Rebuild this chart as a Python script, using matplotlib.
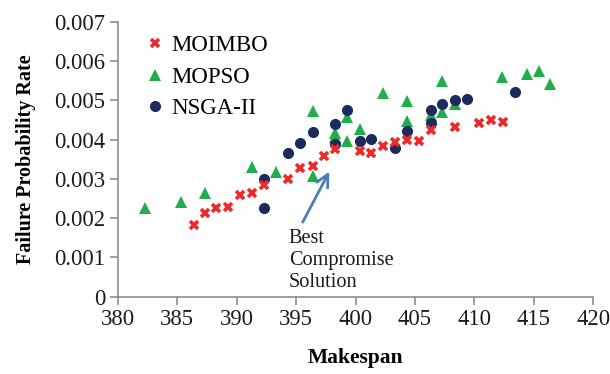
import matplotlib.pyplot as plt
from matplotlib.ticker import FuncFormatter, MultipleLocator

# MOIMBO
moimbo_x = [386.4, 387.3, 388.3, 389.3, 390.3, 391.3, 392.3, 394.35, 395.3, 396.4,
            397.35, 398.3, 400.35, 401.3, 402.35, 403.35, 404.35, 405.3, 406.35,
            408.35, 410.4, 411.4, 412.4]
moimbo_y = [0.00182, 0.00214, 0.00227, 0.00229, 0.00258, 0.00263, 0.00284, 0.00301,
            0.00328, 0.00333, 0.00359, 0.00377, 0.00371, 0.00367, 0.00385, 0.00395,
            0.00399, 0.00398, 0.00425, 0.00432, 0.00443, 0.00450, 0.00444]

# MOPSO
mopso_x = [382.3, 385.3, 387.3, 391.3, 393.3, 396.4, 396.4, 398.3, 398.3, 399.3,
           399.3, 400.35, 402.35, 404.35, 404.35, 406.35, 407.3, 407.3, 408.35,
           412.3, 414.4, 415.4, 416.4]
mopso_y = [0.00227, 0.00241, 0.00265, 0.00330, 0.00317, 0.00308, 0.00473, 0.00416,
           0.00408, 0.00459, 0.00398, 0.00427, 0.00518, 0.00498, 0.00447, 0.00463,
           0.00550, 0.00470, 0.00490, 0.00561, 0.00568, 0.00575, 0.00541]

# NSGA-II
nsga_x = [392.3, 392.3, 394.35, 395.3, 396.4, 398.3, 398.3, 399.3, 400.35, 401.3,
          403.35, 404.35, 406.35, 406.35, 407.3, 408.35, 409.35, 413.4]
nsga_y = [0.00301, 0.00227, 0.00365, 0.00392, 0.00420, 0.00439, 0.00388, 0.00476,
          0.00398, 0.00401, 0.00379, 0.00421, 0.00477, 0.00443, 0.00490, 0.00501,
          0.00504, 0.00521]

serif = ['Liberation Serif', 'DejaVu Serif']
axis_grey = '#8c8c8c'

fig = plt.figure(figsize=(6.1, 3.74), dpi=100)
ax = fig.add_axes([0.193, 0.2067, 0.7796, 0.7345])

ax.plot(mopso_x, mopso_y, '^', color='#1fae4b', markersize=8.5, linestyle='none',
        markeredgewidth=0, label='MOPSO', zorder=3)
ax.plot(nsga_x, nsga_y, 'o', color='#1c2a5c', markersize=8, linestyle='none',
        markeredgewidth=0, label='NSGA-II', zorder=4)
ax.plot(moimbo_x, moimbo_y, 'x', color='#ee2a2a', markersize=6, linestyle='none',
        markeredgewidth=2.6, label='MOIMBO', zorder=5)

ax.set_xlim(380, 420)
ax.set_ylim(0, 0.007)
ax.xaxis.set_major_locator(MultipleLocator(5))
ax.yaxis.set_major_locator(MultipleLocator(0.001))
ax.yaxis.set_major_formatter(FuncFormatter(lambda v, p: '0' if abs(v) < 1e-9 else '%.3f' % v))

for s in ['top', 'right']:
    ax.spines[s].set_visible(False)
for s in ['left', 'bottom']:
    ax.spines[s].set_color(axis_grey)
    ax.spines[s].set_linewidth(1.2)
ax.tick_params(direction='out', length=5.5, width=1.2, color=axis_grey,
               labelsize=16.3, pad=3.5)
for lab in ax.get_xticklabels() + ax.get_yticklabels():
    lab.set_family(serif)
    lab.set_color('#1a1a1a')

ax.set_xlabel('Makespan', fontsize=15.5, fontweight='bold', family=serif, labelpad=13)
ax.set_ylabel('Failure Probability Rate', fontsize=14.5, fontweight='bold',
              family=serif, labelpad=13)

# legend order: MOIMBO, MOPSO, NSGA-II
h, l = ax.get_legend_handles_labels()
order = [2, 0, 1]
ax.legend([h[i] for i in order], [l[i] for i in order], loc='upper left',
          bbox_to_anchor=(0.04, 0.985), frameon=False, handlelength=0.8,
          handletextpad=0.3, labelspacing=0.45, borderaxespad=0,
          prop={'family': serif, 'size': 16.5})

# best compromise solution arrow + text
ax.annotate('', xy=(397.8, 0.00319), xytext=(395.56, 0.00190),
            arrowprops=dict(arrowstyle='->', color='#4a7ebb', lw=2,
                            mutation_scale=22, shrinkA=0, shrinkB=0))
ax.text(394.4, 0.00172, 'Best\nCompromise\nSolution', ha='left', va='top',
        fontsize=14.6, family=serif, color='#1a1a1a', linespacing=1.2)

fig.savefig('out.png', dpi=100)
